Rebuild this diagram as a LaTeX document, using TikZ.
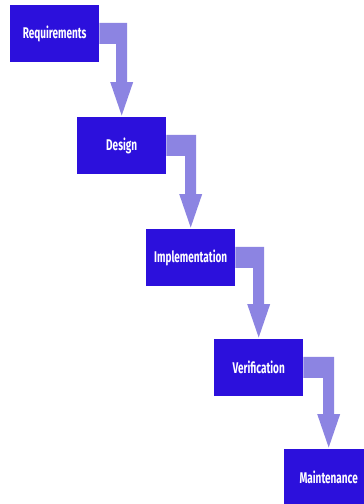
\documentclass[tikz,border=0pt]{standalone}
\usepackage{fontspec}
\setmainfont{Fira Sans}
\usetikzlibrary{calc}

\definecolor{phaseblue}{RGB}{44,16,220}
\definecolor{flowlilac}{RGB}{140,132,226}

\tikzset{
  phase/.style={fill=phaseblue, draw=none, anchor=north west,
    minimum width=89pt, minimum height=56.5pt, inner sep=0pt,
    text=white, font=\fontsize{15.5}{17}\selectfont\bfseries},
  flow/.style={fill=flowlilac, draw=none},
}

% condensed label text
\newcommand{\phaselabel}[1]{\scalebox{0.645}[1]{#1}}

% bent block arrow from the right side of one phase down onto the next
\newcommand{\stepflow}[2]{%
  \fill[flow] let \p1=(#1.east), \p2=(#2.north) in
    (\x1,\y1+10.5pt) -- (\x2+5.5pt,\y1+10.5pt) -- (\x2+5.5pt,\y2+35pt)
    -- (\x2+11.5pt,\y2+35pt) -- (\x2,\y2+1.5pt) -- (\x2-11.5pt,\y2+35pt)
    -- (\x2-5.5pt,\y2+35pt) -- (\x2-5.5pt,\y1-10.5pt) -- (\x1,\y1-10.5pt) -- cycle;}

\begin{document}
\begin{tikzpicture}[x=1pt,y=-1pt]
  \useasboundingbox (0,0) rectangle (364,504);
  \clip (0,0) rectangle (364,504);
  \fill[white] (0,0) rectangle (364,504);

  \node[phase] (req)  at (10,5)    {\phaselabel{Requirements}};
  \node[phase] (des)  at (77,117)  {\phaselabel{Design}};
  \node[phase] (impl) at (146,229) {\phaselabel{Implementation}};
  \node[phase] (ver)  at (214,339) {\phaselabel{Verification}};
  \node[phase] (main) at (284,449) {\phaselabel{Maintenance}};

  \stepflow{req}{des}
  \stepflow{des}{impl}
  \stepflow{impl}{ver}
  \stepflow{ver}{main}
\end{tikzpicture}
\end{document}
